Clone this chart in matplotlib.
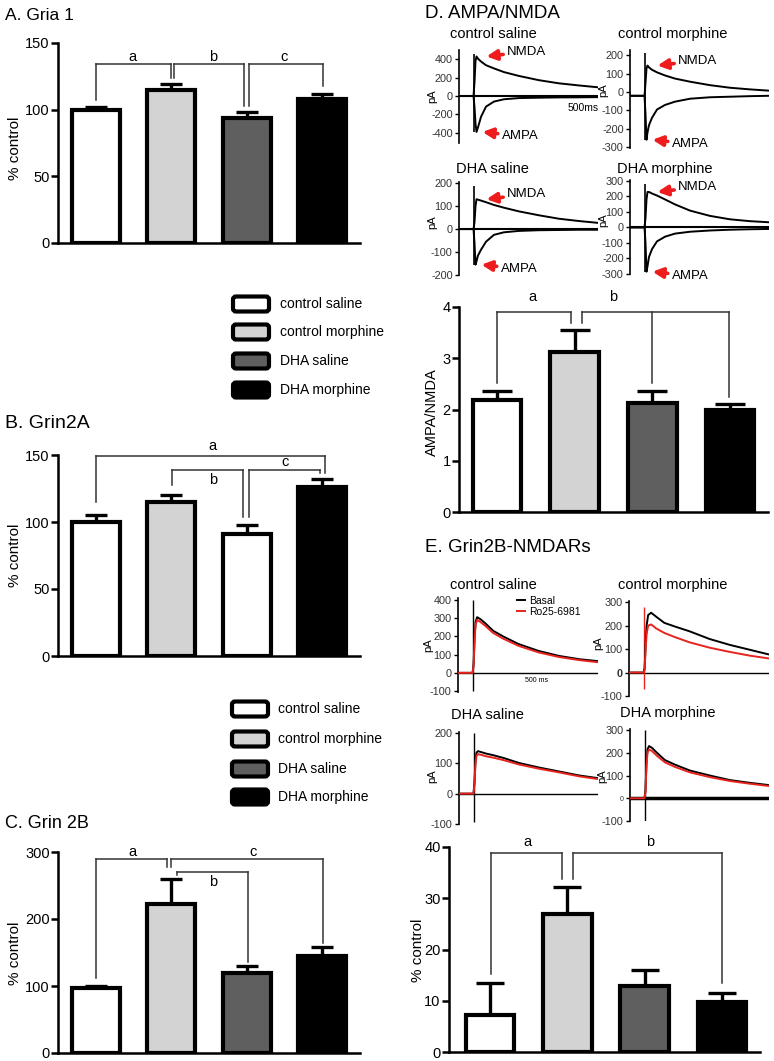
import matplotlib
matplotlib.use('Agg')
import matplotlib.pyplot as plt
from matplotlib.patches import FancyBboxPatch

plt.rcParams['font.family'] = ['Liberation Sans', 'DejaVu Sans']

# ---- data ----
groups = ['control saline', 'control morphine', 'DHA saline', 'DHA morphine']
fills = ['white', '#d3d3d3', '#5f5f5f', 'black']
fills_b = ['white', '#d3d3d3', 'white', 'black']

gria1_mean = [100, 115, 94, 108]
gria1_sem = [2, 4, 4, 4]
grin2a_mean = [100, 115, 91, 126]
grin2a_sem = [5, 5, 7, 6]
grin2b_mean = [97, 222, 119, 145]
grin2b_sem = [3, 38, 11, 13]
ampa_nmda_mean = [2.18, 3.12, 2.12, 1.99]
ampa_nmda_sem = [0.18, 0.43, 0.24, 0.11]
ro_block_mean = [7.2, 27.0, 12.9, 9.8]
ro_block_sem = [6.3, 5.2, 3.1, 1.8]

# brackets: leg x, leg bottoms, top, letter, letter x, letter y
gria1_brackets = [([0.0, 1.0], [107, 124], 134, 'a', 0.49, 139.5),
                  ([1.04, 1.96], [124, 103], 134, 'b', 1.55, 139.5),
                  ([2.03, 3.01], [103, 118], 134, 'c', 2.5, 139.5)]
grin2a_brackets = [([0.0, 3.03], [115, 136.5], 149.5, 'a', 1.55, 156.5),
                   ([1.01, 1.95], [127.5, 103.5], 139, 'b', 1.55, 131),
                   ([2.03, 2.97], [103.5, 136.5], 139, 'c', 2.51, 145)]
grin2b_brackets = [([0.0, 0.95], [112, 278], 290, 'a', 0.49, 300),
                   ([1.0, 3.01], [278, 164], 290, 'c', 2.08, 300),
                   ([1.08, 2.01], [265, 136], 270, 'b', 1.56, 255)]
ampa_brackets = [([0.0, 0.95], [2.52, 3.69], 3.9, 'a', 0.46, 4.2),
                 ([1.09, 2.0, 2.99], [3.69, 2.52, 2.25], 3.9, 'b', 1.49, 4.2)]
ro_brackets = [([0.01, 0.93], [15.3, 33.8], 38.8, 'a', 0.49, 41.0),
               ([1.07, 3.0], [33.8, 13.4], 38.8, 'b', 2.07, 41.0)]

# example traces (ms, pA), stimulus at 150 ms
trace_t = [0, 145, 155, 165, 175, 190, 220, 270, 350, 450, 600, 800, 1000, 1200, 1390]
d_cs_nmda = [0, 0, 150, 380, 430, 405, 375, 335, 300, 260, 218, 172, 138, 115, 95]
d_cs_ampa = [0, 0, -120, -300, -390, -340, -226, -115, -60, -35, -22, -18, -15, -14, -12]
d_cm_nmda = [-20, -20, 50, 130, 145, 135, 122, 108, 91, 74, 57, 38, 24, 15, 8]
d_cm_ampa = [-20, -20, -120, -260, -220, -180, -140, -95, -70, -52, -36, -28, -25, -22, -20]
d_ds_nmda = [0, 0, 30, 100, 130, 128, 124, 117, 105, 93, 77, 60, 45, 35, 27]
d_ds_ampa = [0, 0, -60, -155, -140, -115, -90, -55, -25, -14, -8, -5, -4, -3, -3]
d_dm_nmda = [0, 0, 60, 180, 228, 228, 218, 205, 180, 148, 108, 74, 52, 40, 33]
d_dm_ampa = [0, 0, -100, -285, -250, -190, -140, -90, -60, -40, -28, -20, -15, -12, -10]

e_cs_basal = [0, 0, 50, 200, 280, 305, 295, 272, 230, 199, 158, 120, 93, 75, 64]
e_cs_ro = [0, 0, 40, 180, 265, 290, 280, 258, 218, 187, 148, 112, 87, 70, 58]
e_cm_basal = [0, 0, 20, 120, 200, 245, 255, 238, 212, 197, 176, 143, 118, 97, 77]
e_cm_ro = [0, 0, 10, 100, 165, 200, 205, 188, 169, 152, 129, 106, 88, 72, 60]
e_ds_basal = [0, 0, 40, 110, 135, 140, 137, 132, 126, 117, 101, 86, 73, 60, 51]
e_ds_ro = [0, 0, 30, 100, 125, 130, 128, 123, 118, 110, 96, 82, 70, 57, 48]
e_dm_basal = [0, 0, 40, 160, 215, 230, 222, 200, 168, 148, 122, 100, 80, 68, 58]
e_dm_ro = [0, 0, 30, 145, 200, 215, 208, 187, 158, 138, 114, 93, 76, 64, 54]

W, H = 774, 1061
fig = plt.figure(figsize=(W / 100, H / 100), dpi=100)


def px_axes(l, t, r, b):
    return fig.add_axes([l / W, 1 - b / H, (r - l) / W, (b - t) / H])


def bar_panel(rect, means, sems, colors, ylim, yticks, brackets, xlim=(-0.5, 3.5), capsize=8):
    ax = px_axes(*rect)
    x = list(range(len(means)))
    ax.errorbar(x, means, yerr=[[0] * len(means), sems], fmt='none', ecolor='black',
                elinewidth=2.4, capsize=capsize, capthick=2.4, zorder=2)
    ax.bar(x, means, width=0.63, color=colors, edgecolor='black', linewidth=3, zorder=3)
    for legs_x, legs_y, top, letter, lx, ly in brackets:
        for xx, yy in zip(legs_x, legs_y):
            ax.plot([xx, xx], [yy, top], color='#333333', lw=1.1, clip_on=False)
        ax.plot([min(legs_x), max(legs_x)], [top, top], color='#333333', lw=1.1, clip_on=False)
        ax.text(lx, ly, letter, ha='center', va='center', fontsize=10.5, clip_on=False)
    ax.set_xlim(*xlim)
    ax.set_ylim(*ylim)
    ax.set_yticks(yticks)
    ax.set_xticks([])
    for sp in ['top', 'right']:
        ax.spines[sp].set_visible(False)
    for sp in ['left', 'bottom']:
        ax.spines[sp].set_linewidth(1.8)
    ax.tick_params(axis='y', length=5, width=1.8, labelsize=10.5, pad=1)
    return ax


def trace_panel(rect, ylim, yticks, curves, zero_lw=1.5):
    ax = px_axes(*rect)
    ax.set_xlim(0, 1390)
    ax.set_ylim(*ylim)
    for sp in ['top', 'right', 'bottom']:
        ax.spines[sp].set_visible(False)
    ax.spines['left'].set_linewidth(1.2)
    ax.set_xticks([])
    ax.set_yticks(yticks, labels=[str(v) for v in yticks])
    ax.tick_params(axis='y', length=3, width=1, labelsize=7.8, pad=1.5, labelcolor='#333333')
    if zero_lw:
        ax.axhline(0, color='black', lw=zero_lw, zorder=1)
    for y, c, lab in curves:
        ax.plot(trace_t, y, color=c, lw=1.4, label=lab, zorder=3)
    return ax


def arrow_label(ax, label, y, dx, off):
    idx = y.index(max(y)) if label == 'NMDA' else y.index(min(y))
    ax.annotate(label, xy=(trace_t[idx] + dx, y[idx]), xytext=off, textcoords='offset points',
                ha='left', va='center', fontsize=9.5, annotation_clip=False,
                arrowprops=dict(arrowstyle='-|>', color='#ee1c1c', lw=2.6, mutation_scale=15,
                                shrinkA=1, shrinkB=0))


# ---- left column: bar charts ----
bar_panel((58, 43, 360, 243), gria1_mean, gria1_sem, fills, (0, 150), [0, 50, 100, 150], gria1_brackets)
bar_panel((58, 455, 360, 656), grin2a_mean, grin2a_sem, fills_b, (0, 150), [0, 50, 100, 150], grin2a_brackets)
bar_panel((58, 852, 360, 1053), grin2b_mean, grin2b_sem, fills, (0, 300), [0, 100, 200, 300], grin2b_brackets)

# ---- D: AMPA/NMDA ----
d1 = trace_panel((459, 50, 598, 143), (-510, 500), [-400, -200, 0, 200, 400],
                 [(d_cs_nmda, 'black', None), (d_cs_ampa, 'black', None)])
d2 = trace_panel((630, 50, 769, 148), (-305, 230), [-300, -200, -100, 0, 100, 200],
                 [(d_cm_nmda, 'black', None), (d_cm_ampa, 'black', None)], zero_lw=0)
d3 = trace_panel((459, 182, 598, 275), (-200, 205), [-200, -100, 0, 100, 200],
                 [(d_ds_nmda, 'black', None), (d_ds_ampa, 'black', None)])
d4 = trace_panel((630, 180, 769, 274), (-300, 305), [-300, -200, -100, 0, 100, 200, 300],
                 [(d_dm_nmda, 'black', None), (d_dm_ampa, 'black', None)])
for ax, nmda, ampa in [(d1, d_cs_nmda, d_cs_ampa), (d2, d_cm_nmda, d_cm_ampa),
                       (d3, d_ds_nmda, d_ds_ampa), (d4, d_dm_nmda, d_dm_ampa)]:
    ax.vlines(150, min(ampa), ax.get_ylim()[1] * 0.92, color='black', lw=1.2)
    arrow_label(ax, 'NMDA', nmda, 100, (15, 3.5))
    arrow_label(ax, 'AMPA', ampa, 60, (14, -3))

bar_panel((459, 307, 768, 512), ampa_nmda_mean, ampa_nmda_sem, fills, (0, 4), [0, 1, 2, 3, 4],
          ampa_brackets, xlim=(-0.49, 3.49), capsize=11)

# ---- E: Grin2B-NMDARs ----
e1 = trace_panel((458, 598, 598, 692), (-105, 410), [-100, 0, 100, 200, 300, 400],
                 [(e_cs_basal, 'black', 'Basal'), (e_cs_ro, '#e8231c', 'Ro25-6981')], zero_lw=1)
e2 = trace_panel((629, 601, 769, 696), (-100, 305), [-100, 0, 100, 200, 300],
                 [(e_cm_basal, 'black', None), (e_cm_ro, '#e8231c', None)], zero_lw=1)
e3 = trace_panel((459, 732, 598, 824), (-100, 203), [-100, 0, 100, 200],
                 [(e_ds_basal, 'black', None), (e_ds_ro, '#e8231c', None)], zero_lw=1)
e4 = trace_panel((630, 729, 769, 821), (-100, 305), [-100, 0, 100, 200, 300],
                 [(e_dm_basal, 'black', None), (e_dm_ro, '#e8231c', None)], zero_lw=2.5)
e1.vlines(150, -100, 400, color='black', lw=1)
e2.vlines(150, -70, 280, color='#e8231c', lw=1)
e3.vlines(150, -95, 200, color='black', lw=1)
e4.vlines(150, -100, 300, color='black', lw=1)
for lab in e2.get_yticklabels():
    if lab.get_text() == '0':
        lab.set_fontweight('bold')
for lab in e4.get_yticklabels():
    if lab.get_text() == '0':
        lab.set_fontsize(5)
e1.legend(loc='upper left', bbox_to_anchor=(0.42, 1.02), fontsize=7.5, frameon=False,
          handlelength=0.8, handletextpad=0.4, labelspacing=0.05, borderaxespad=0, borderpad=0)

bar_panel((449, 847, 760, 1052), ro_block_mean, ro_block_sem, fills, (0, 40), [0, 10, 20, 30, 40],
          ro_brackets, xlim=(-0.53, 3.49), capsize=10)

# ---- text and legends in figure pixels ----
ov = fig.add_axes([0, 0, 1, 1])
ov.set_xlim(0, W)
ov.set_ylim(H, 0)
ov.axis('off')

for x, y, s, fs in [(5, 16, 'A. Gria 1', 12.5), (5, 423, 'B. Grin2A', 14), (5, 823, 'C. Grin 2B', 13),
                    (425, 13, 'D. AMPA/NMDA', 13.5), (425, 548, 'E. Grin2B-NMDARs', 13.5)]:
    ov.text(x, y, s, ha='left', va='center', fontsize=fs)

for x, y, s in [(15, 148, '% control'), (15, 555, '% control'), (15, 953, '% control'),
                (432, 412, 'AMPA/NMDA'), (418, 950, '% control')]:
    ov.text(x, y, s, ha='center', va='center', rotation=90, fontsize=11 if s[0] == '%' else 10.5)

for x, y, s in [(493, 34, groups[0]), (673, 34, groups[1]), (492, 169, groups[2]), (665, 169, groups[3]),
                (493, 585, groups[0]), (673, 585, groups[1]), (487, 715, groups[2]), (668, 713, groups[3])]:
    ov.text(x, y, s, ha='center', va='center', fontsize=10.5)

for x, y in [(432, 96), (603, 90), (432, 222), (603, 220), (428, 645), (598, 643), (432, 776), (602, 776)]:
    ov.text(x, y, 'pA', ha='center', va='center', rotation=90, fontsize=8)

ov.text(583, 108, '500ms', ha='center', va='center', fontsize=7.5)
ov.text(537, 681, '500 ms', ha='center', va='center', fontsize=5)

for bx, tx, rows in [(233, 280, [304, 332, 361, 390]), (232, 278, [709, 739, 769, 797])]:
    for yc, name, fc in zip(rows, groups, fills):
        ov.add_patch(FancyBboxPatch((bx, yc - 7.5), 36, 15, boxstyle='round,pad=0,rounding_size=3',
                                    fc=fc, ec='black', lw=3))
        ov.text(tx, yc, name, ha='left', va='center', fontsize=10)

fig.savefig('out.png', dpi=100)
